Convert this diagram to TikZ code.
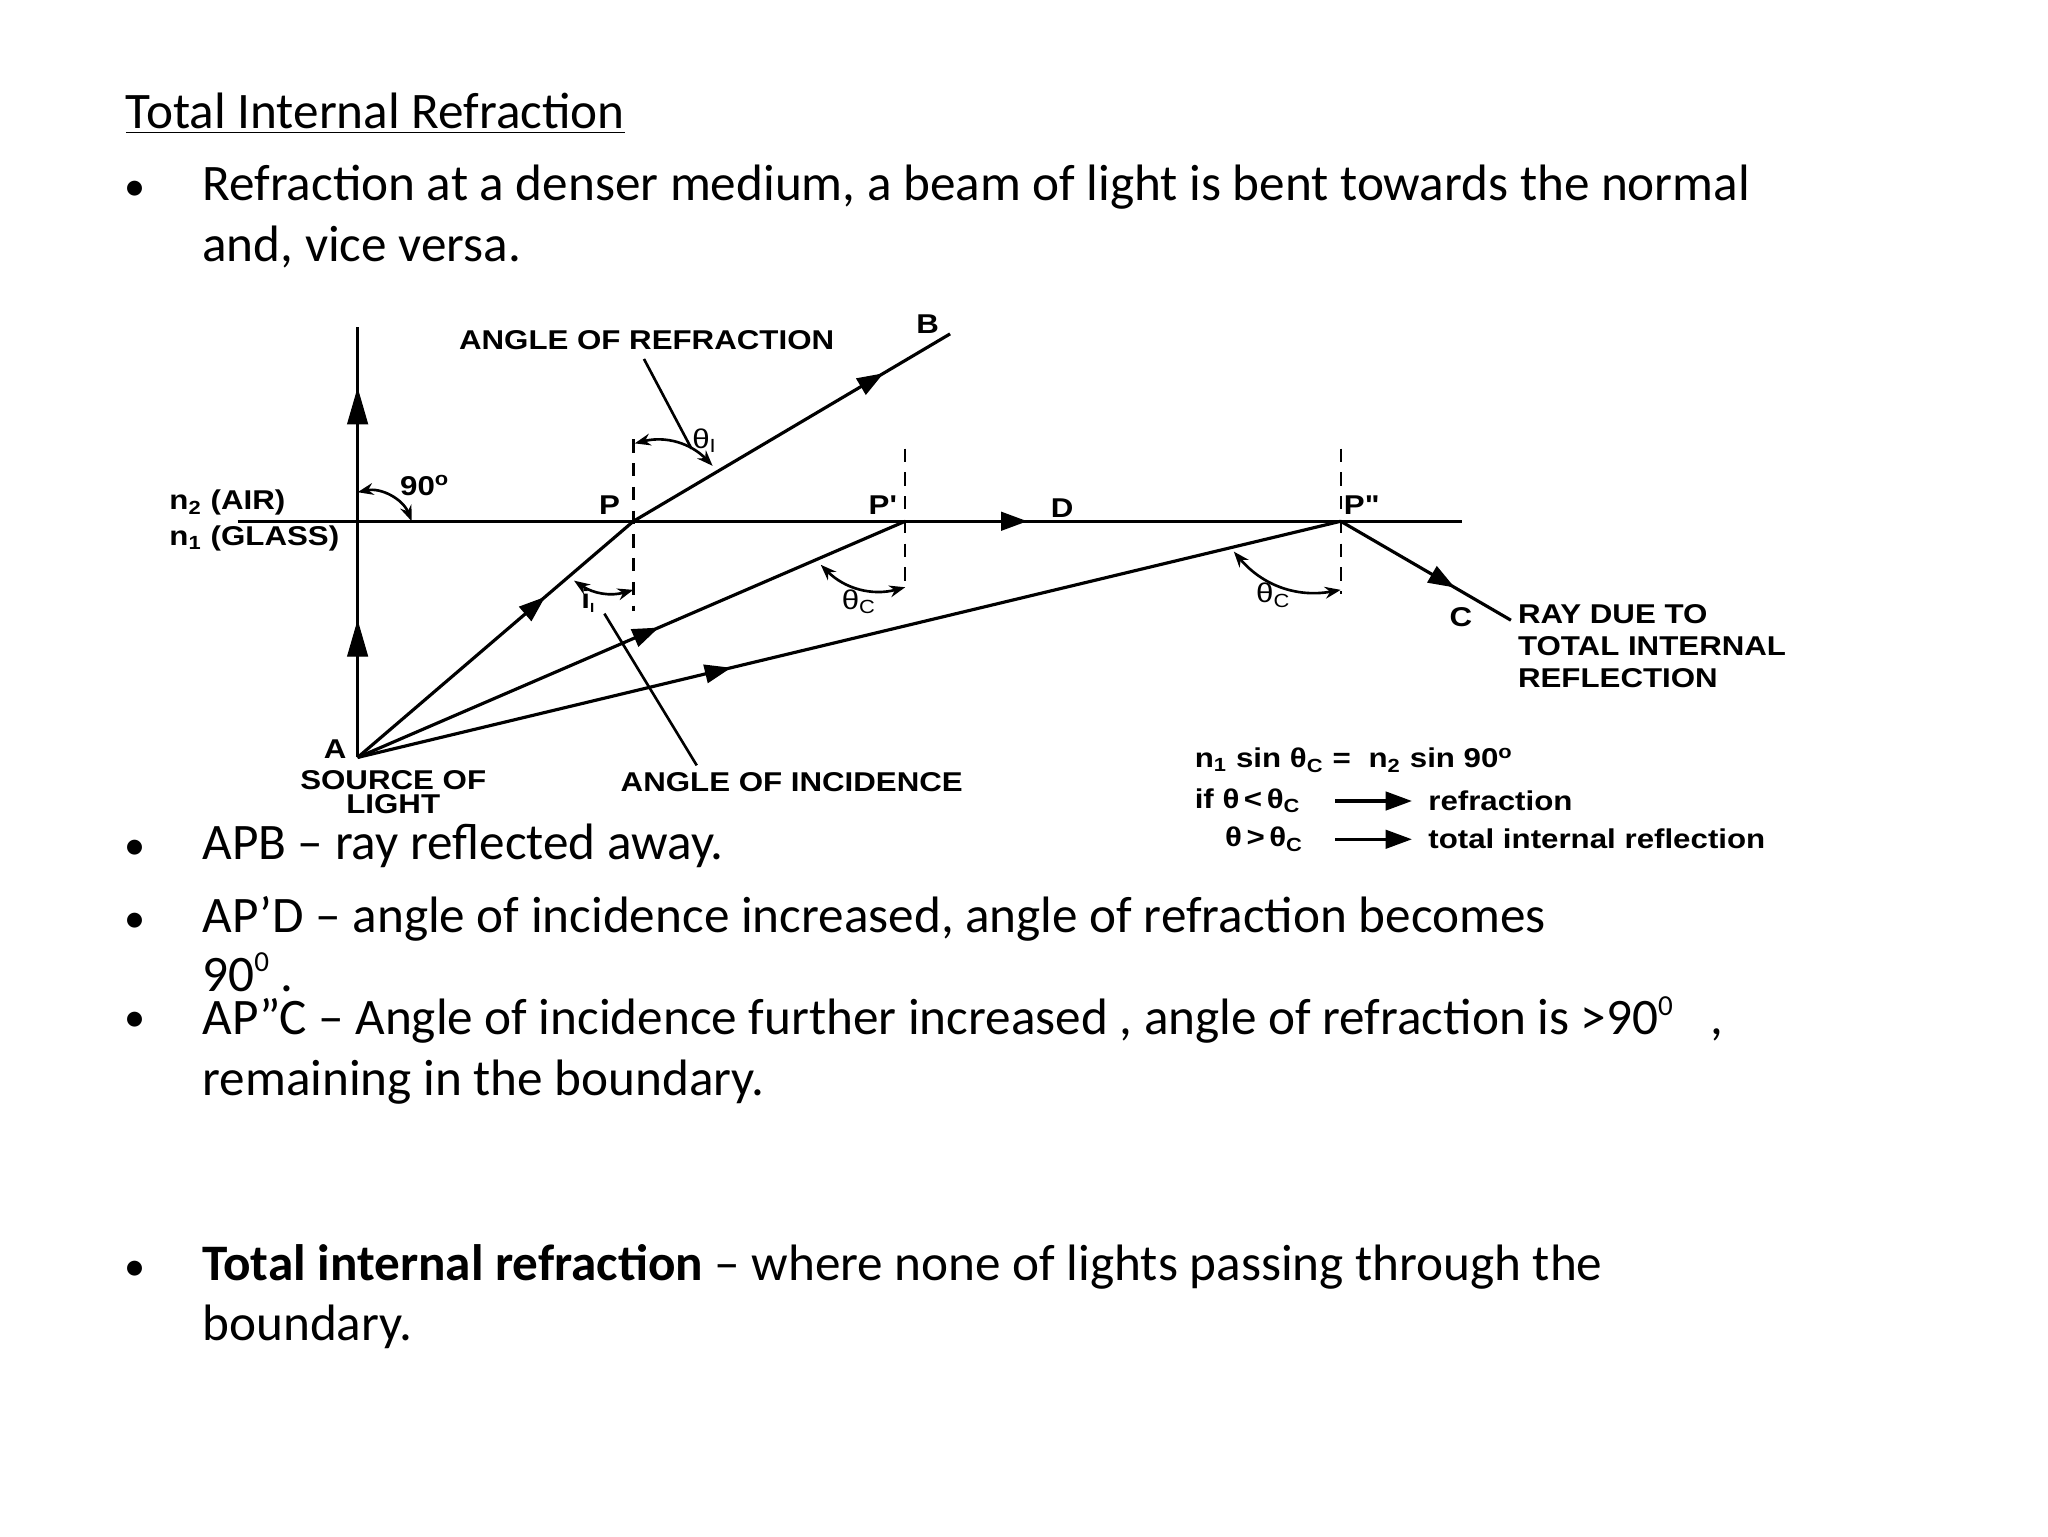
\documentclass[tikz,border=0pt]{standalone}
\usepackage{fontspec}
\setmainfont{Carlito}
\newfontfamily\dfont[FakeStretch=1.15]{Liberation Sans}
\usetikzlibrary{arrows.meta,decorations.markings}
\newcommand\mysup[1]{\raisebox{0.8ex}{\fontsize{11}{11}\selectfont #1}}
\begin{document}
\begin{tikzpicture}[x=0.5pt,y=-0.5pt,
  body/.style={anchor=base west,inner sep=0,font=\fontsize{19.4}{23}\selectfont},
  lab/.style={inner sep=0,font=\dfont\bfseries\fontsize{10.3}{12}\selectfont},
  ray/.style={line width=1.2pt},
  midarr/.style={postaction={decorate},decoration={markings,mark=at position #1 with {\arrow{Triangle[length=10pt,width=7pt]}}}},
  norm/.style={line width=0.9pt,dash pattern=on 5pt off 4pt},
  angarr/.style={line width=1pt,{Stealth[length=6pt]}-{Stealth[length=6pt]}}]
\useasboundingbox (0,0) rectangle (1552,1164);
% text
\node[body] (title) at (95,97) {\underline{Total Internal Refraction}};
\foreach \y in {152,651,707,782,970} \node[body,font=\fontsize{16}{18}\selectfont] at (94,\y) {\textbullet};
\node[body] (t1) at (153,152) {Refraction at a denser medium, a beam of light is bent towards the normal};
\node[body] (t2) at (153,198) {and, vice versa.};
\node[body] (t3) at (153,651) {APB – ray reflected away.};
\node[body] (t4) at (153,707) {AP’D – angle of incidence increased, angle of refraction becomes};
\node[body] (t5) at (153,751) {90\mysup{0} .};
\node[body] (t6) at (153,784) {AP”C – Angle of incidence further increased , angle of refraction is >90\mysup{0}\,\,\, ,};
\node[body] (t7) at (153,830) {remaining in the boundary.};
\node[body] (t8) at (153,970) {\textbf{Total internal refraction} – where none of lights passing through the};
\node[body] (t9) at (153,1016) {boundary.};
% geometry
\coordinate (A) at (271,574);
\coordinate (top) at (271,248);
\coordinate (L) at (180,395);
\coordinate (R) at (1108,395);
\coordinate (P) at (480,395);
\coordinate (P1) at (686,395);
\coordinate (P2) at (1016,395);
\coordinate (B) at (720,253);
\coordinate (C) at (1145,470);
\draw[ray] (A) -- (top);
\path[postaction={decorate},decoration={markings,mark=at position 0.32 with {\arrow{Triangle[length=14pt,width=8pt]}},mark=at position 0.86 with {\arrow{Triangle[length=14pt,width=8pt]}}}] (A) -- (top);
\draw[ray,midarr=0.645] (L) -- (R);
\draw[ray,midarr=0.68] (A) -- (P);
\draw[ray,midarr=0.79] (P) -- (B);
\draw[ray,midarr=0.55] (A) -- (P1);
\draw[ray,midarr=0.38] (A) -- (P2);
\draw[ray,midarr=0.67] (P2) -- (C);
\draw[norm] (480,333) -- (480,463);
\draw[norm] (686,340) -- (686,445);
\draw[norm] (1016,340) -- (1016,450);
% angle arcs
\draw[angarr] (271,373) to[bend left=40] (312,395);
\draw[angarr] (481,336) to[bend left=30] (540,353);
\draw[angarr] (435,440) to[bend right=25] (480,447);
\draw[angarr] (622,428) to[bend right=30] (686,445);
\draw[angarr] (935,418) to[bend right=30] (1016,447);
% pointer lines
\draw[line width=1pt] (488,272) -- (524,340);
\draw[line width=1pt] (458,465) -- (528,580);
% labels
\node[lab] (ar) at (490,258) {ANGLE OF REFRACTION};
\node[lab] (ai) at (600,593) {ANGLE OF INCIDENCE};
\node[lab,font=\dfont\fontsize{10.3}{12}\selectfont] (th1) at (534,334) {θ\textsubscript{I}};
\node[lab] (i1) at (446,455) {i\textsubscript{\tiny I}};
\node[lab,font=\dfont\fontsize{10.3}{12}\selectfont] (thc1) at (651,456) {θ\textsubscript{C}};
\node[lab,font=\dfont\fontsize{10.3}{12}\selectfont] (thc2) at (965,451) {θ\textsubscript{C}};
\node[lab] (ninety) at (322,368) {90\textsuperscript{o}};
\node[lab,anchor=west] (n2) at (128,381) {n\textsubscript{2} (AIR)};
\node[lab,anchor=west] (n1) at (128,408) {n\textsubscript{1} (GLASS)};
\node[lab] (lP) at (462,383) {P};
\node[lab] (lP1) at (669,383) {P'};
\node[lab] (lD) at (805,385) {D};
\node[lab] (lP2) at (1032,383) {P"};
\node[lab] (lB) at (703,246) {B};
\node[lab] (lC) at (1107,468) {C};
\node[lab] (lA) at (254,568) {A};
\node[lab,align=center,font=\dfont\bfseries\fontsize{10.3}{9}\selectfont] (src) at (298,600) {SOURCE OF\\LIGHT};
\node[lab,align=left,anchor=north west] (rdt) at (1150,458) {RAY DUE TO\\TOTAL INTERNAL\\REFLECTION};
\node[lab,anchor=west] (f1) at (905,576) {n\textsubscript{1} sin θ\textsubscript{C} =\,\, n\textsubscript{2} sin 90\textsuperscript{o}};
\node[lab,anchor=west] (f2) at (905,607) {if θ\,<\,θ\textsubscript{C}};
\node[lab,anchor=west] (f3) at (928,636) {θ\,>\,θ\textsubscript{C}};
\coordinate (a1s) at (1012,607); \coordinate (a1e) at (1070,607);
\coordinate (a2s) at (1012,636); \coordinate (a2e) at (1070,636);
\draw[line width=1.2pt,-{Triangle[length=10pt,width=7pt]}] (a1s) -- (a1e);
\draw[line width=1.2pt,-{Triangle[length=10pt,width=7pt]}] (a2s) -- (a2e);
\node[lab,anchor=west] (r1) at (1082,607) {refraction};
\node[lab,anchor=west] (r2) at (1082,636) {total internal reflection};
\end{tikzpicture}
\end{document}
